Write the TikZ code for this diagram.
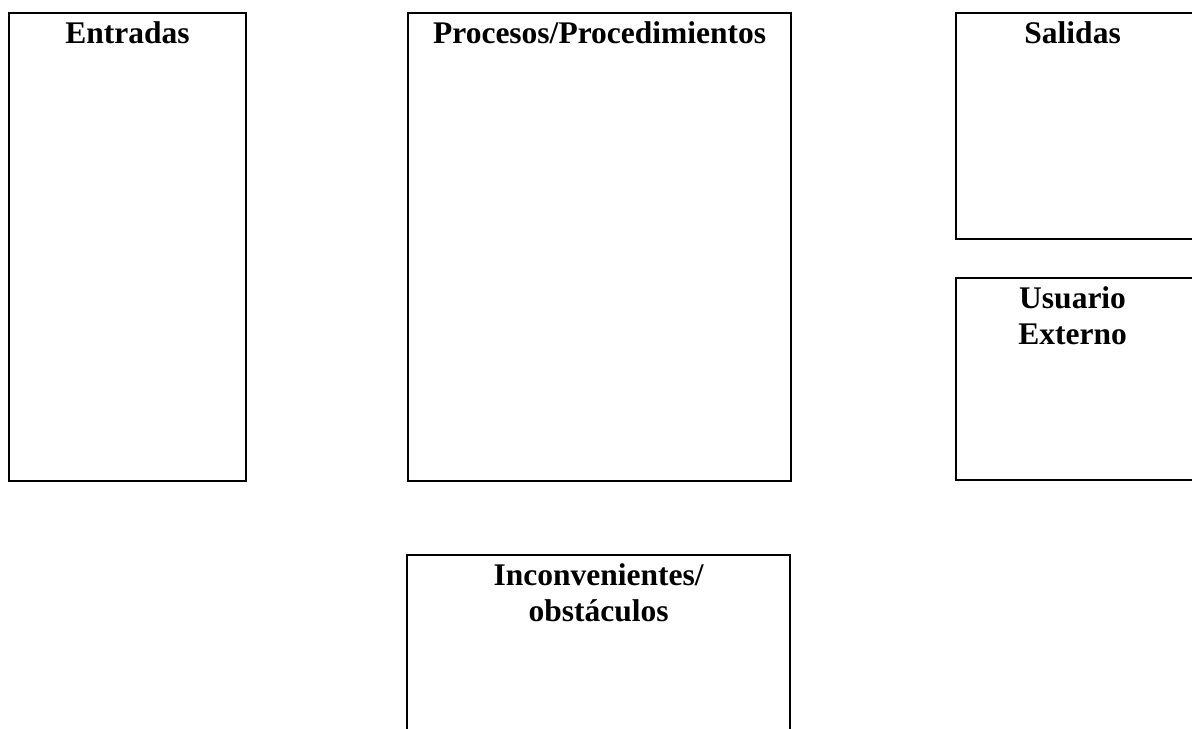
\documentclass[tikz,border=0pt]{standalone}
\usepackage{fontspec}
\setmainfont{Liberation Serif}
\tikzset{
  cajon/.style={draw, line width=1.1pt, anchor=north west, inner sep=0pt},
  titulo/.style={font=\fontsize{15.75pt}{18pt}\selectfont\bfseries, align=center, anchor=base, inner sep=0pt}
}
\begin{document}
\begin{tikzpicture}[x=0.5pt,y=-0.5pt]
	\useasboundingbox (0,0) rectangle (1192,728);
	\clip (0,0) rectangle (1192,728);

            % cajas
            \node[cajon, minimum width=118.5pt, minimum height=234pt] (ent) at (8,12) {};
            \node[cajon, minimum width=191.5pt, minimum height=234pt] (proc) at (407,12) {};
            \node[cajon, minimum width=122.5pt, minimum height=113pt] (sal) at (955,12) {};
            \node[cajon, minimum width=122.5pt, minimum height=101pt] (usu) at (955,277) {};
            \node[cajon, minimum width=191.5pt, minimum height=93pt] (inc) at (406,554) {};

            % titulos (base = ultima linea)
            \node[titulo] (entT) at ([yshift=-15.5pt]ent.north) {Entradas};
            \node[titulo] (procT) at ([yshift=-15.5pt]proc.north) {Procesos/Procedimientos};
            \node[titulo] (salT) at ([xshift=-3pt,yshift=-15.5pt]sal.north) {Salidas};
            \node[titulo] (usuT) at ([xshift=-3pt,yshift=-33.5pt]usu.north) {Usuario\\Externo};
            \node[titulo] (incT) at ([yshift=-33.5pt]inc.north) {Inconvenientes/\\obstáculos};
\end{tikzpicture}
\end{document}
